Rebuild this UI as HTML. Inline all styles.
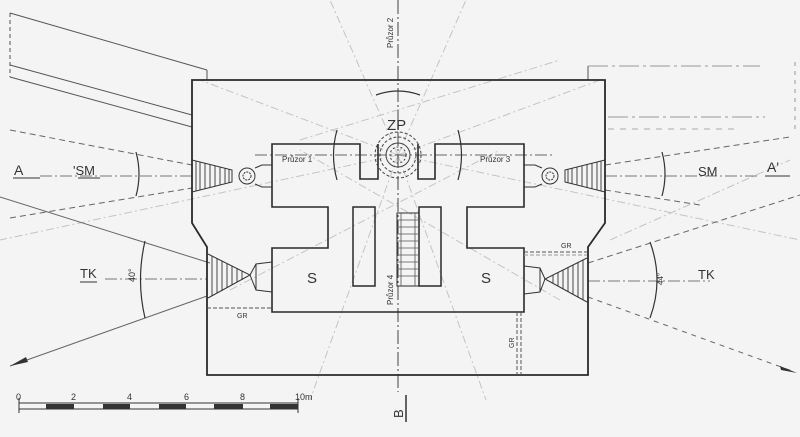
<!DOCTYPE html>
<html><head><meta charset="utf-8"><style>
html,body{margin:0;padding:0;background:#f4f4f4;}
svg{display:block;}
text{font-family:"Liberation Sans",sans-serif;fill:#333;}
</style></head><body>
<svg width="800" height="437" viewBox="0 0 800 437" xmlns="http://www.w3.org/2000/svg">
<rect width="800" height="437" fill="#f4f4f4"/>
<g stroke="#c4c4c4" stroke-width="1" stroke-dasharray="8,3,2,3" fill="none">
<line x1="398" y1="155" x2="330" y2="0"/>
<line x1="398" y1="155" x2="466" y2="0"/>
<line x1="398" y1="155" x2="200" y2="80"/>
<line x1="398" y1="155" x2="600" y2="80"/>
<line x1="398" y1="155" x2="310" y2="400"/>
<line x1="398" y1="155" x2="486" y2="400"/>
<line x1="398" y1="155" x2="0" y2="240"/>
<line x1="398" y1="155" x2="800" y2="240"/>
<line x1="300" y1="140" x2="560" y2="60"/>
<line x1="230" y1="290" x2="500" y2="150"/>
<line x1="560" y1="300" x2="300" y2="150"/>
<line x1="610" y1="240" x2="790" y2="160"/>
</g>
<g stroke="#444" stroke-width="1" fill="none">
<line x1="398" y1="0" x2="398" y2="392" stroke-dasharray="14,3,2,3"/>
<line x1="255" y1="155" x2="555" y2="155" stroke-dasharray="12,3,2,3" stroke="#666"/>
<line x1="40" y1="176" x2="192" y2="176" stroke-dasharray="12,3,2,3" stroke="#777"/>
<line x1="605" y1="176" x2="760" y2="176" stroke-dasharray="12,3,2,3" stroke="#777"/>
<line x1="105" y1="279" x2="207" y2="279" stroke-dasharray="12,3,2,3" stroke="#777"/>
<line x1="588" y1="281" x2="710" y2="281" stroke-dasharray="12,3,2,3" stroke="#777"/>
</g>
<g stroke="#555" stroke-width="1" fill="none">
<line x1="10" y1="13" x2="207" y2="70"/>
<line x1="207" y1="70" x2="207" y2="80"/>
<line x1="10" y1="65" x2="192" y2="115"/>
<line x1="10" y1="77" x2="192" y2="127"/>
<line x1="10" y1="13" x2="10" y2="77" stroke-dasharray="4,3"/>
<line x1="588" y1="66" x2="588" y2="80"/>
<line x1="588" y1="66" x2="760" y2="66" stroke="#999" stroke-dasharray="20,4,3,4"/>
<line x1="608" y1="117" x2="765" y2="117" stroke="#999" stroke-dasharray="20,4,3,4"/>
<line x1="608" y1="129" x2="740" y2="129" stroke="#aaa" stroke-dasharray="6,6"/>
<line x1="795" y1="62" x2="795" y2="130" stroke="#999" stroke-dasharray="4,5"/>
</g>
<g stroke="#666" stroke-width="1" fill="none">
<line x1="10" y1="130" x2="192" y2="165" stroke-dasharray="6,4"/>
<line x1="10" y1="218" x2="192" y2="188" stroke-dasharray="6,4"/>
<line x1="605" y1="165" x2="790" y2="137" stroke-dasharray="6,4"/>
<line x1="605" y1="190" x2="700" y2="205" stroke-dasharray="6,4"/>
<line x1="0" y1="197" x2="210" y2="263"/>
<line x1="10" y1="366" x2="207" y2="296"/>
<line x1="588" y1="263" x2="800" y2="195" stroke-dasharray="6,4"/>
<line x1="588" y1="297" x2="795" y2="372" stroke-dasharray="5,5"/>
</g>
<polygon points="10,366 26,357 28,362" fill="#333"/>
<polygon points="797,373 780,366 781,370" fill="#333"/>
<g stroke="#333" stroke-width="1.2" fill="none">
<path d="M136,152 Q142,174 136,196"/>
<path d="M145,241 Q136,280 145,318"/>
<path d="M662,152 Q668,174 662,196"/>
<path d="M650,242 Q664,280 650,318"/>
<path d="M376,95 Q398,87 420,95"/>
<path d="M337,130 Q330,155 337,180"/>
<path d="M458,130 Q465,155 458,180"/>
</g>
<path d="M192,80 L605,80 L605,223 L588,247 L588,375 L207,375 L207,247 L192,223 Z" fill="none" stroke="#2a2a2a" stroke-width="1.8"/>
<path d="M378,144 L378,179 L360,179 L360,144 L272,144 L272,207 L328,207 L328,248 L272,248 L272,312 L524,312 L524,248 L467,248 L467,207 L524,207 L524,144 L435,144 L435,179 L418,179 L418,144" fill="none" stroke="#2a2a2a" stroke-width="1.6"/>
<g stroke="#2a2a2a" stroke-width="1.5" fill="none">
<rect x="353" y="207" width="22" height="79"/>
<rect x="419" y="207" width="22" height="79"/>
<rect x="397" y="213" width="22" height="73" stroke-width="1"/>
</g>
<g stroke="#555" stroke-width="0.8">
<line x1="397" y1="220" x2="419" y2="220"/><line x1="397" y1="227" x2="419" y2="227"/>
<line x1="397" y1="234" x2="419" y2="234"/><line x1="397" y1="241" x2="419" y2="241"/>
<line x1="397" y1="248" x2="419" y2="248"/><line x1="397" y1="255" x2="419" y2="255"/>
<line x1="397" y1="262" x2="419" y2="262"/><line x1="397" y1="269" x2="419" y2="269"/>
<line x1="397" y1="276" x2="419" y2="276"/>
<line x1="401" y1="213" x2="401" y2="286"/><line x1="415" y1="213" x2="415" y2="286"/>
</g>
<g fill="none" stroke="#444">
<circle cx="398" cy="155" r="23" stroke-dasharray="3,2"/>
<circle cx="398" cy="155" r="18" stroke-dasharray="3,2"/>
<circle cx="398" cy="155" r="12"/>
<circle cx="398" cy="155" r="8" stroke-dasharray="2,2"/>
</g>
<g stroke="#333" stroke-width="1" fill="none">
<path d="M192,160 L232,170 L232,182 L192,192"/>
<circle cx="247" cy="176" r="8"/><circle cx="247" cy="176" r="4" stroke-dasharray="2,1"/>
<path d="M255,168 L262,165 L272,165 M255,184 L262,187 L272,187"/>
<path d="M605,160 L565,170 L565,182 L605,192"/>
<circle cx="550" cy="176" r="8"/><circle cx="550" cy="176" r="4" stroke-dasharray="2,1"/>
<path d="M542,168 L535,165 L524,165 M542,184 L535,187 L524,187"/>
<path d="M208,254 L250,275 L208,298"/>
<path d="M250,275 L256,264 L272,262 M250,275 L256,290 L272,292 M256,264 L256,290"/>
<path d="M587,258 L545,279 L587,302"/>
<path d="M545,279 L540,268 L524,266 M545,279 L540,292 L524,294 M540,268 L540,292"/>
</g>
<g stroke="#333" stroke-width="0.9">
<line x1="196" y1="161" x2="196" y2="191"/><line x1="200" y1="162" x2="200" y2="190"/>
<line x1="205" y1="163" x2="205" y2="189"/><line x1="210" y1="164" x2="210" y2="188"/>
<line x1="215" y1="166" x2="215" y2="186"/><line x1="220" y1="167" x2="220" y2="185"/>
<line x1="225" y1="168" x2="225" y2="184"/><line x1="229" y1="169" x2="229" y2="183"/>
<line x1="601" y1="161" x2="601" y2="191"/><line x1="597" y1="162" x2="597" y2="190"/>
<line x1="592" y1="163" x2="592" y2="189"/><line x1="587" y1="164" x2="587" y2="188"/>
<line x1="582" y1="166" x2="582" y2="186"/><line x1="577" y1="167" x2="577" y2="185"/>
<line x1="572" y1="168" x2="572" y2="184"/><line x1="568" y1="169" x2="568" y2="183"/>
<line x1="212" y1="256" x2="212" y2="296"/><line x1="217" y1="258" x2="217" y2="293"/>
<line x1="222" y1="261" x2="222" y2="291"/><line x1="227" y1="263" x2="227" y2="288"/>
<line x1="232" y1="266" x2="232" y2="285"/><line x1="237" y1="268" x2="237" y2="282"/>
<line x1="242" y1="271" x2="242" y2="280"/>
<line x1="583" y1="260" x2="583" y2="300"/><line x1="578" y1="262" x2="578" y2="297"/>
<line x1="573" y1="265" x2="573" y2="295"/><line x1="568" y1="267" x2="568" y2="292"/>
<line x1="563" y1="270" x2="563" y2="289"/><line x1="558" y1="272" x2="558" y2="286"/>
<line x1="553" y1="275" x2="553" y2="283"/>
</g>
<g stroke="#555" stroke-width="1" fill="none" stroke-dasharray="4,2">
<line x1="207" y1="308" x2="272" y2="308"/>
<line x1="524" y1="252" x2="587" y2="252"/>
<line x1="524" y1="255" x2="587" y2="255" stroke="#999"/>
<line x1="517" y1="312" x2="517" y2="375"/>
<line x1="521" y1="312" x2="521" y2="375"/>
</g>
<g stroke="#333" fill="none" stroke-width="1">
<rect x="19" y="403" width="279" height="6"/>
<line x1="19" y1="398" x2="19" y2="413"/>
<line x1="298" y1="398" x2="298" y2="413"/>
</g>
<g fill="#333">
<rect x="46" y="404" width="28" height="5"/><rect x="103" y="404" width="27" height="5"/>
<rect x="159" y="404" width="27" height="5"/><rect x="214" y="404" width="29" height="5"/>
<rect x="270" y="404" width="28" height="5"/>
</g>
<g font-size="9">
<text x="16" y="400">0</text><text x="71" y="400">2</text><text x="127" y="400">4</text>
<text x="184" y="400">6</text><text x="240" y="400">8</text><text x="295" y="400">10m</text>
</g>
<line x1="406" y1="395" x2="406" y2="422" stroke="#333" stroke-width="1.5"/>
<text transform="translate(403,418) rotate(-90)" font-size="13">B</text>
<text x="14" y="175" font-size="14">A</text>
<line x1="13" y1="178" x2="40" y2="178" stroke="#333"/>
<text x="73" y="175" font-size="13">'SM</text>
<line x1="78" y1="178" x2="100" y2="178" stroke="#333"/>
<text x="698" y="176" font-size="13">SM</text>
<text x="767" y="172" font-size="14">A'</text>
<line x1="765" y1="176" x2="790" y2="176" stroke="#333"/>
<text x="80" y="278" font-size="13">TK</text>
<line x1="80" y1="282" x2="97" y2="282" stroke="#333"/>
<text x="698" y="279" font-size="13">TK</text>
<text transform="translate(135,282) rotate(-90)" font-size="9">40°</text>
<text transform="translate(663,285) rotate(-90)" font-size="8">44°</text>
<text x="387" y="130" font-size="15">ZP</text>
<text x="307" y="283" font-size="15">S</text>
<text x="481" y="283" font-size="15">S</text>
<text x="282" y="162" font-size="8">Průzor 1</text>
<text x="480" y="162" font-size="8">Průzor 3</text>
<text transform="translate(393,48) rotate(-90)" font-size="8">Průzor 2</text>
<text transform="translate(393,305) rotate(-90)" font-size="8">Průzor 4</text>
<text x="237" y="318" font-size="7">GR</text>
<text x="561" y="248" font-size="7">GR</text>
<text transform="translate(514,348) rotate(-90)" font-size="7">GR</text>
</svg>
</body></html>
